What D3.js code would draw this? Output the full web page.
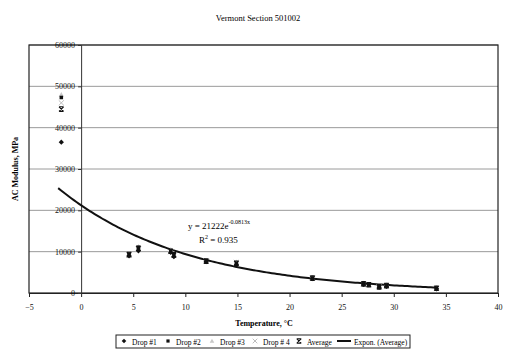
<!DOCTYPE html>
<html><head><meta charset="utf-8">
<script src="https://cdn.jsdelivr.net/npm/d3@7"></script>
<style>body{margin:0;background:#fff}svg{display:block;font-family:"Liberation Serif","Times New Roman",serif}</style>
</head><body>
<svg id="c" width="515" height="356"></svg>
<script>
const temps = [-1.9, 4.6, 5.5, 8.6, 8.9, 12.0, 14.9, 22.2, 27.1, 27.6, 28.6, 29.3, 34.1];
const drop1 = [36500, 9000, 10200, 9800, 8800, 7600, 6800, 3500, 2100, 2000, 1400, 1600, 1000];
const drop2 = [47300, 9400, 11000, 10200, 9400, 7800, 7200, 3600, 2300, 2000, 1500, 1900, 1200];
const drop3 = [48000, 9600, 11200, 10500, 9600, 7900, 7500, 3700, 2400, 2100, 1600, 2000, 1300];
const drop4 = [46000, 9200, 10600, 10000, 9200, 7700, 7400, 3600, 2200, 2000, 1500, 1800, 1100];
const average = [44500, 9300, 10800, 10100, 9200, 7700, 7200, 3600, 2200, 2000, 1500, 1800, 1150];
const fitA = 21222, fitB = -0.0813;
const xTicks = [-5, 0, 5, 10, 15, 20, 25, 30, 35, 40];
const yTicks = [0, 10000, 20000, 30000, 40000, 50000, 60000];
const seriesNames = ["Drop #1", "Drop #2", "Drop #3", "Drop # 4", "Average", "Expon. (Average)"];

const svg = d3.select("#c");
const L = 29, R = 498, T = 45, B = 293;
const x = d3.scaleLinear().domain([-5, 40]).range([L, R]);
const y = d3.scaleLinear().domain([0, 60000]).range([B, T]);

// gridlines
svg.append("g").selectAll("line").data(yTicks.filter(d => d > 0)).join("line")
  .attr("x1", L).attr("x2", R).attr("y1", d => y(d)).attr("y2", d => y(d))
  .attr("stroke", "#9a9a9a").attr("stroke-width", 1);
// plot border
svg.append("rect").attr("x", L).attr("y", T).attr("width", R - L).attr("height", B - T)
  .attr("fill", "none").attr("stroke", "#222").attr("stroke-width", 1.2);

// x axis
const xa = svg.append("g").attr("transform", `translate(0,${B})`).attr("color", "#222")
  .call(d3.axisBottom(x).tickValues(xTicks).tickSize(4).tickFormat(d3.format("d")));
xa.selectAll("text").attr("font-size", 8).attr("font-family", "Liberation Serif").attr("dy", "1.2em").attr("fill", "#111");
// y axis at x=0
const ya = svg.append("g").attr("transform", `translate(${x(0)},0)`).attr("color", "#333")
  .call(d3.axisLeft(y).tickValues(yTicks).tickSize(3).tickFormat(d3.format("d")));
ya.selectAll("text").attr("font-size", 8).attr("font-family", "Liberation Serif").attr("fill", "#111");

// titles
svg.append("text").attr("x", 258).attr("y", 21).attr("text-anchor", "middle")
  .attr("font-size", 8.5).text("Vermont Section 501002");
svg.append("text").attr("transform", "translate(18,169) rotate(-90)").attr("text-anchor", "middle")
  .attr("font-size", 8).attr("font-weight", "bold").text("AC Modulus, MPa");
svg.append("text").attr("x", 264).attr("y", 326).attr("text-anchor", "middle")
  .attr("font-size", 8).attr("font-weight", "bold").text("Temperature, °C");

// trend line
const fitX = d3.range(d3.min(temps) - 0.3, d3.max(temps) + 0.01, 0.25);
svg.append("path").datum(fitX)
  .attr("d", d3.line().x(d => x(d)).y(d => y(fitA * Math.exp(fitB * d))))
  .attr("fill", "none").attr("stroke", "#111").attr("stroke-width", 2);

// markers
function marker(g, type, s) {
  if (type === 0) g.append("path").attr("d", `M0,${-s}L${s},0L0,${s}L${-s},0Z`).attr("fill", "#111");
  else if (type === 1) g.append("rect").attr("x", -s * 0.8).attr("y", -s * 0.8).attr("width", s * 1.6).attr("height", s * 1.6).attr("fill", "#111");
  else if (type === 2) g.append("path").attr("d", `M0,${-s}L${s},${s * 0.8}L${-s},${s * 0.8}Z`).attr("fill", "#c8c8c8");
  else if (type === 3) g.append("path").attr("d", `M${-s},${-s}L${s},${s}M${s},${-s}L${-s},${s}`).attr("stroke", "#bdbdbd").attr("stroke-width", 1);
  else if (type === 4) g.append("path").attr("d", `M${-s},${-s}L${s},${-s}M${-s},${s}L${s},${s}M${-s},${-s}L${s},${s}M${s},${-s}L${-s},${s}`).attr("stroke", "#111").attr("stroke-width", 1.1);
}
const allSeries = [drop1, drop2, drop3, drop4, average];
[2, 3, 0, 1, 4].forEach(si => {
  allSeries[si].forEach((v, i) => {
    const g = svg.append("g").attr("transform", `translate(${x(temps[i])},${y(v)})`);
    marker(g, si, si === 1 ? 2.2 : (si === 4 ? 2.3 : 2.6));
  });
});

// equation
const eq = svg.append("text").attr("x", 188).attr("y", 229).attr("font-size", 9);
eq.append("tspan").text("y = 21222e");
eq.append("tspan").attr("dy", -5).attr("font-size", 6).text("-0.0813x");
const r2 = svg.append("text").attr("x", 199).attr("y", 243).attr("font-size", 9);
r2.append("tspan").text("R");
r2.append("tspan").attr("dy", -4).attr("font-size", 6).text("2");
r2.append("tspan").attr("dy", 4).text(" = 0.935");

// legend
const lg = svg.append("g");
lg.append("rect").attr("x", 116).attr("y", 335).attr("width", 294).attr("height", 13)
  .attr("fill", "#fff").attr("stroke", "#222").attr("stroke-width", 1);
const lx = [124, 168, 212, 255, 299, 337];
seriesNames.forEach((n, i) => {
  if (i < 5) {
    const g = lg.append("g").attr("transform", `translate(${lx[i]},${341})`);
    marker(g, i, i === 1 ? 2 : 2.3);
    lg.append("text").attr("x", lx[i] + 8).attr("y", 344.5).attr("font-size", 7.5).text(n);
  } else {
    lg.append("line").attr("x1", lx[i]).attr("x2", lx[i] + 14).attr("y1", 341).attr("y2", 341).attr("stroke", "#111").attr("stroke-width", 2);
    lg.append("text").attr("x", lx[i] + 17).attr("y", 344.5).attr("font-size", 7.5).text(n);
  }
});
</script>
</body></html>
